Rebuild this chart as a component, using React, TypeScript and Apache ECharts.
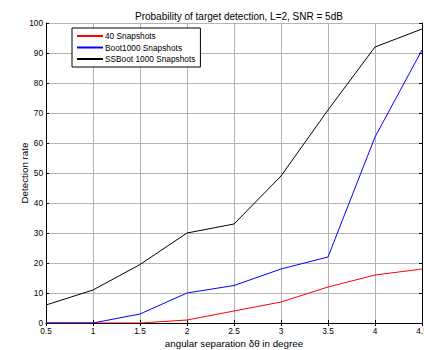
import React, { useEffect, useRef } from "react";
import * as echarts from "echarts";

const xValues = [0.5, 1, 1.5, 2, 2.5, 3, 3.5, 4, 4.5];
const snap40 = [0, 0, 0, 1, 4, 7, 12, 16, 18];
const boot1000 = [0, 0, 3, 10, 12.5, 18, 22, 62, 91];
const ssboot1000 = [6, 11, 19.5, 30, 33, 49, 71, 92, 98];
const seriesNames = ["40 Snapshots", "Boot1000 Snapshots", "SSBoot 1000 Snapshots"];
const seriesColors = ["#ff0000", "#0000ff", "#000000"];

const FONT = "Liberation Sans, Arial, sans-serif";

export default function App() {
  const ref = useRef<HTMLDivElement>(null);
  useEffect(() => {
    if (!ref.current) return;
    const chart = echarts.init(ref.current, undefined, { renderer: "svg" });
    const pair = (ys: number[]) => xValues.map((x, i) => [x, ys[i]]);
    const grid = { show: true, lineStyle: { color: "#b4b4b4", width: 1, type: "solid" } };
    chart.setOption({
      animation: false,
      backgroundColor: "#ffffff",
      textStyle: { fontFamily: FONT },
      title: {
        text: "Probability of target detection, L=2, SNR = 5dB",
        left: 130,
        top: 6,
        textStyle: { fontSize: 10, fontWeight: "normal", color: "#000", fontFamily: FONT },
      },
      legend: {
        orient: "vertical",
        left: 72,
        top: 28,
        itemWidth: 26,
        itemHeight: 2,
        itemGap: 3.5,
        padding: [4, 5, 4, 5],
        borderColor: "#000",
        borderWidth: 1,
        backgroundColor: "#fff",
        textStyle: { fontSize: 8.3, color: "#000", fontFamily: FONT, padding: [0, 0, 0, -3] },
        data: seriesNames.map((n) => ({ name: n, icon: "rect" })),
      },
      grid: { left: 46, right: 2, top: 23, bottom: 27, containLabel: false, outerBoundsMode: "none" },
      xAxis: [
        {
          type: "value",
          min: 0.5,
          max: 4.5,
          interval: 0.5,
          name: "angular separation δθ in degree",
          nameLocation: "middle",
          nameGap: 15,
          nameMoveOverlap: false,
          nameTextStyle: { fontSize: 9.8, color: "#000", fontFamily: FONT },
          axisLine: { lineStyle: { color: "#000", width: 1 } },
          axisTick: { inside: true, length: 3, lineStyle: { color: "#000" } },
          axisLabel: { fontSize: 8.3, color: "#000", margin: 4, fontFamily: FONT, hideOverlap: false },
          splitLine: grid,
        },
        {
          type: "value",
          position: "top",
          min: 0.5,
          max: 4.5,
          interval: 0.5,
          axisLine: { show: true, lineStyle: { color: "#000", width: 1 } },
          axisTick: { show: true, inside: true, length: 3, lineStyle: { color: "#000" } },
          axisLabel: { show: false },
          splitLine: { show: false },
        },
      ],
      yAxis: [
        {
          type: "value",
          min: 0,
          max: 100,
          interval: 10,
          name: "Detection rate",
          nameLocation: "middle",
          nameGap: 17,
          nameMoveOverlap: false,
          nameTextStyle: { fontSize: 9.8, color: "#000", fontFamily: FONT },
          axisLine: { show: true, lineStyle: { color: "#000", width: 1 } },
          axisTick: { show: true, inside: true, length: 3, lineStyle: { color: "#000" } },
          axisLabel: { fontSize: 8.3, color: "#000", margin: 3, fontFamily: FONT },
          splitLine: grid,
        },
        {
          type: "value",
          position: "right",
          min: 0,
          max: 100,
          interval: 10,
          axisLine: { show: true, lineStyle: { color: "#000", width: 1 } },
          axisTick: { show: true, inside: true, length: 3, lineStyle: { color: "#000" } },
          axisLabel: { show: false },
          splitLine: { show: false },
        },
      ],
      series: [snap40, boot1000, ssboot1000].map((ys, i) => ({
        name: seriesNames[i],
        type: "line",
        data: pair(ys),
        symbol: "none",
        color: seriesColors[i],
        lineStyle: { color: seriesColors[i], width: 1 },
      })),
    });
    return () => chart.dispose();
  }, []);
  return (
    <div
      ref={ref}
      style={{ position: "fixed", left: 0, top: 0, width: 424, height: 350, background: "#fff" }}
    />
  );
}
